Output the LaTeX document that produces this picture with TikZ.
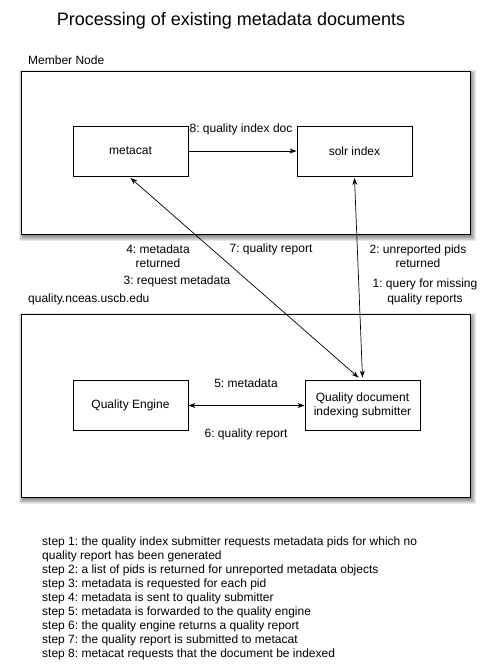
\documentclass[tikz,border=0pt]{standalone}
\usepackage{fontspec}
\setmainfont{Liberation Sans}
\frenchspacing
\usetikzlibrary{arrows.meta}
\begin{document}
\begin{tikzpicture}[x=1pt,y=-1pt,
  lbl/.style={font=\fontsize{12}{14.5}\selectfont, inner sep=0pt, align=center},
  comp/.style={draw, line width=0.9pt, minimum width=115pt, minimum height=50pt, font=\fontsize{12}{14.5}\selectfont, align=center, inner sep=2pt},
  frame/.style={draw, line width=1.2pt, fill=white},
  shade/.style={fill=black, opacity=0.09},
  conn/.style={line width=0.7pt, {Stealth[length=7pt,width=5pt]}-{Stealth[length=7pt,width=5pt]}},
  oneway/.style={line width=0.7pt, -{Stealth[length=7pt,width=5pt]}}]
\useasboundingbox (0,0) rectangle (489,671);
\fill[white] (0,0) rectangle (489,671);

\node[lbl, font=\fontsize{18}{21}\selectfont] (title) at (231,21) {Processing of existing metadata documents};

% soft shadows behind the two frames
\foreach \e in {4,3,2,1,0,-1}{
  \fill[shade] (21+2-\e,71+3-\e) rectangle (470+2+\e,234+3+\e);
  \fill[shade] (21+2-\e,314+3-\e) rectangle (470+2+\e,497+3+\e);
}

\node[lbl, anchor=west] (mnlabel) at (28,60) {Member Node};
\node[frame, minimum width=449pt, minimum height=163pt, anchor=north west] (mn) at (21,71) {};

\node[lbl, anchor=west] (qlabel) at (28,299) {quality.nceas.uscb.edu};
\node[frame, minimum width=449pt, minimum height=183pt, anchor=north west] (qn) at (21,314) {};

\node[comp] (metacat) at (130.5,151) {metacat};
\node[comp] (solr) at (354.5,151) {solr index};
\node[comp] (qe) at (130.5,405.5) {Quality Engine};
\node[comp] (qds) at (362.5,405.5) {Quality document\\indexing submitter};

\draw[oneway] (metacat.east) -- (solr.west);
\node[lbl] (l8) at (241,129) {8: quality index doc};

\draw[conn] ([yshift=-1.5pt]metacat.south) -- ([xshift=-4pt,yshift=2.5pt]qds.north);
\draw[conn] ([yshift=-1.5pt]solr.south) -- ([yshift=2.5pt]qds.north);
\draw[conn] (qe.east) -- (qds.west);

\node[lbl] (l4) at (158,256) {4: metadata\\returned};
\node[lbl] (l7) at (271,249) {7: quality report};
\node[lbl] (l3) at (177,281) {3: request metadata};
\node[lbl] (l2) at (418,256) {2: unreported pids\\returned};
\node[lbl] (l1) at (425,292) {1: query for missing\\quality reports};
\node[lbl] (l5) at (246,383) {5: metadata};
\node[lbl] (l6) at (246,434) {6: quality report};

\node[lbl, align=left, anchor=north west, font=\fontsize{12}{14}\selectfont] (steps) at (42,537) {step 1: the quality index submitter requests metadata pids for which no\\
quality report has been generated\\
step 2: a list of pids is returned for unreported metadata objects\\
step 3: metadata is requested for each pid\\
step 4: metadata is sent to quality submitter\\
step 5: metadata is forwarded to the quality engine\\
step 6: the quality engine returns a quality report\\
step 7: the quality report is submitted to metacat\\
step 8: metacat requests that the document be indexed};
\end{tikzpicture}
\end{document}
